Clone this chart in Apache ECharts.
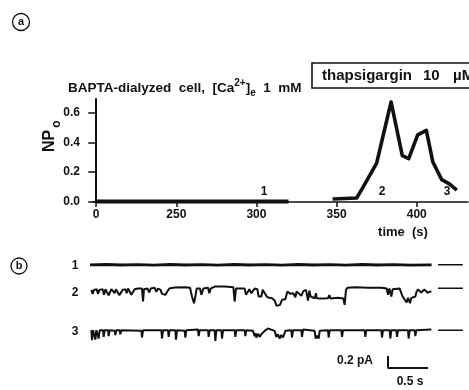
<!DOCTYPE html>
<html>
<head>
<meta charset="utf-8">
<script src="https://cdn.jsdelivr.net/npm/echarts@6/dist/echarts.min.js"></script>
<style>
html, body { margin: 0; padding: 0; background: #fff; }
#main { width: 469px; height: 390px; }
</style>
</head>
<body>
<div id="main"></div>
<script>
var FONT = '"Liberation Sans", Arial, sans-serif';

// (a) NPo against time; the time axis is broken after 250 s
var xTicks = [0, 250, 300, 350, 400];
var yTicks = [0, 0.2, 0.4, 0.6];
var baseTime = [0, 320];
var baseNPo = [0.003, 0.003];
var respTime = [347.5, 362.5, 366, 375, 384, 391, 395, 400.6, 406, 410, 415.6, 420.6, 425];
var respNPo = [0.02, 0.027, 0.09, 0.26, 0.67, 0.31, 0.29, 0.45, 0.48, 0.27, 0.15, 0.12, 0.08];

// (b) single channel records, [time s, current pA], openings go down
var trace1 = [[0, 0], [0.2, 0.005], [0.4, -0.003], [0.6, 0.004], [0.8, -0.004], [1.0, 0.005], [1.2, -0.003],
  [1.4, 0.004], [1.6, -0.004], [1.8, 0.005], [2.0, -0.003], [2.2, 0.004], [2.4, -0.004], [2.6, 0.005],
  [2.8, -0.003], [3.0, 0.004], [3.2, -0.004], [3.4, 0.005], [3.6, -0.003], [3.8, 0.004], [4.0, -0.004], [4.27, 0]];
var trace2 = [[0.017, -0.028], [0.033, -0.094], [0.05, -0.028], [0.083, -0.017], [0.1, -0.094], [0.117, -0.028],
  [0.158, -0.017], [0.175, -0.111], [0.192, -0.017], [0.217, -0.017], [0.233, -0.117], [0.25, -0.117],
  [0.267, -0.017], [0.292, -0.006], [0.308, -0.083], [0.325, -0.017], [0.35, -0.017], [0.367, -0.117],
  [0.392, -0.117], [0.408, -0.028], [0.442, -0.017], [0.458, -0.083], [0.475, -0.006], [0.5, -0.006],
  [0.517, -0.111], [0.542, -0.111], [0.558, -0.017], [0.6, -0.006], [0.65, -0.006], [0.663, -0.222],
  [0.675, -0.017], [0.717, -0.006], [0.742, -0.072], [0.758, -0.006], [0.808, 0.006], [0.829, -0.061],
  [0.85, -0.006], [0.883, -0.028], [0.9, -0.094], [0.942, -0.111], [0.967, -0.056], [0.992, -0.006],
  [1.058, 0.011], [1.183, 0.017], [1.25, 0.006], [1.275, -0.139], [1.3, -0.25], [1.317, -0.139],
  [1.333, -0.006], [1.375, -0.006], [1.392, -0.111], [1.417, -0.006], [1.475, 0.006], [1.492, -0.083],
  [1.508, -0.006], [1.558, 0.028], [1.683, 0.028], [1.792, 0.017], [1.808, -0.222], [1.825, -0.006],
  [1.85, 0.011], [1.933, -0.006], [1.95, -0.111], [1.975, -0.111], [1.992, -0.017], [2.017, -0.083],
  [2.042, -0.094], [2.058, -0.006], [2.092, -0.017], [2.108, -0.139], [2.142, -0.139], [2.158, -0.028],
  [2.183, -0.017], [2.217, -0.15], [2.275, -0.167], [2.308, -0.206], [2.333, -0.294], [2.375, -0.278],
  [2.4, -0.194], [2.442, -0.183], [2.467, -0.056], [2.483, -0.028], [2.508, -0.094], [2.542, -0.083],
  [2.567, -0.15], [2.583, -0.056], [2.608, -0.028], [2.642, -0.128], [2.667, -0.05], [2.7, -0.028],
  [2.725, -0.206], [2.742, -0.039], [2.758, -0.139], [2.808, -0.167], [2.825, -0.083], [2.833, -0.167],
  [2.892, -0.172], [2.975, -0.167], [2.992, -0.117], [3.008, -0.172], [3.1, -0.161], [3.167, -0.172],
  [3.183, -0.278], [3.2, -0.028], [3.217, 0.006], [3.308, 0.017], [3.475, 0.006], [3.642, 0.006],
  [3.708, -0.006], [3.725, -0.111], [3.742, -0.006], [3.767, -0.139], [3.783, -0.017], [3.871, -0.006],
  [3.892, -0.006], [3.908, -0.139], [3.933, -0.172], [3.958, -0.239], [3.975, -0.161], [4.0, -0.25],
  [4.017, -0.161], [4.042, -0.194], [4.067, -0.139], [4.083, -0.056], [4.1, -0.02], [4.121, -0.028],
  [4.14, -0.07], [4.163, -0.072], [4.18, -0.02], [4.204, -0.039], [4.22, -0.075], [4.246, -0.061], [4.267, -0.05]];
var trace3 = [[0.017, 0], [0.025, -0.167], [0.038, 0], [0.058, -0.011], [0.067, -0.156], [0.079, 0],
  [0.1, 0.011], [0.108, -0.139], [0.121, 0], [0.163, 0], [0.171, -0.111], [0.183, 0], [0.225, 0],
  [0.233, -0.1], [0.246, 0], [0.308, -0.011], [0.317, -0.083], [0.329, 0], [0.371, 0], [0.379, -0.067],
  [0.392, 0], [0.642, -0.011], [0.65, -0.122], [0.663, 0], [0.892, 0], [0.9, -0.139], [0.913, 0],
  [0.975, 0], [0.983, -0.111], [0.996, 0], [1.067, 0], [1.075, -0.156], [1.088, 0], [1.183, -0.011],
  [1.192, -0.122], [1.204, 0], [1.35, 0.011], [1.358, -0.1], [1.371, 0], [1.475, 0], [1.483, -0.111],
  [1.496, 0], [1.558, 0], [1.567, -0.178], [1.579, 0], [1.642, 0], [1.65, -0.139], [1.663, 0],
  [1.808, 0], [1.817, -0.111], [1.829, 0], [1.933, 0], [1.942, -0.1], [1.954, 0], [2.037, -0.011],
  [2.058, -0.1], [2.07, -0.05], [2.079, -0.122], [2.1, -0.06], [2.121, -0.111], [2.14, -0.07],
  [2.162, -0.089], [2.183, -0.011], [2.225, 0.028], [2.308, -0.011], [2.329, -0.111], [2.35, -0.07],
  [2.371, -0.139], [2.39, -0.08], [2.412, -0.122], [2.442, -0.011], [2.517, 0], [2.525, -0.122],
  [2.538, 0], [2.642, 0], [2.65, -0.111], [2.663, 0.011], [2.808, -0.011], [2.821, -0.139],
  [2.84, -0.09], [2.858, -0.139], [2.871, -0.011], [2.975, 0], [2.983, -0.122], [2.996, 0],
  [3.142, 0], [3.15, -0.111], [3.163, 0], [3.433, 0], [3.442, -0.111], [3.454, 0], [3.642, 0],
  [3.65, -0.122], [3.663, 0], [3.746, 0], [3.754, -0.139], [3.767, 0], [3.829, 0], [3.838, -0.111],
  [3.85, 0], [3.975, 0], [3.983, -0.139], [3.996, 0], [4.058, 0], [4.067, -0.1], [4.079, 0], [4.267, 0.011]];
var traceOffset = [1.72, 1.33, 0.63];
var traceNames = ['1', '2', '3'];
var closedMarkT = [4.35, 4.66];
var scaleBarT = [3.725, 4.225];
var scaleBarI = 0.2;

function axisPos(t) {
    return t <= 250 ? t / 5 : 50 + (t - 250);
}
function axisTime(p) {
    return p <= 50 ? p * 5 : p + 200;
}
function shift(trace, off) {
    return trace.map(function (d) { return [d[0], d[1] + off]; });
}

var myChart = echarts.init(document.getElementById('main'));

var traces = [trace1, trace2, trace3];
var traceSeries = traces.map(function (tr, k) {
    return {
        type: 'line', xAxisIndex: 1, yAxisIndex: 1,
        data: shift(tr, traceOffset[k]),
        showSymbol: false, animation: false,
        lineStyle: { color: '#111', width: k === 0 ? 2.8 : 2 }
    };
});
var markSeries = traceOffset.map(function (off) {
    return {
        type: 'line', xAxisIndex: 1, yAxisIndex: 1,
        data: [[closedMarkT[0], off], [closedMarkT[1], off]],
        showSymbol: false, animation: false,
        lineStyle: { color: '#111', width: 1.4 }
    };
});

var boldText = function (x, y, text, size, align, rot) {
    return {
        type: 'text', x: x, y: y, rotation: rot || 0,
        style: { text: text, font: 'bold ' + size + 'px ' + FONT, fill: '#111',
                 align: align || 'center', verticalAlign: 'middle' }
    };
};

option = {
    backgroundColor: '#fff',
    grid: [
        { left: 93, right: 1, top: 99, bottom: 188 },
        { left: 90, right: 0, top: 250, bottom: 22 }
    ],
    xAxis: [
        {
            type: 'value', min: -2, max: 232, gridIndex: 0,
            axisLine: { lineStyle: { color: '#111', width: 1.5 } },
            axisTick: { customValues: xTicks.map(axisPos), length: 5, lineStyle: { color: '#111', width: 1.5 } },
            axisLabel: {
                customValues: xTicks.map(axisPos), margin: 7,
                formatter: function (v) { return String(Math.round(axisTime(v))); },
                color: '#111', fontWeight: 'bold', fontSize: 12, fontFamily: FONT
            },
            splitLine: { show: false }
        },
        { type: 'value', min: 0, max: 4.7375, gridIndex: 1, show: false }
    ],
    yAxis: [
        {
            type: 'value', min: 0, max: 0.69, gridIndex: 0,
            axisLine: { show: true, lineStyle: { color: '#111', width: 2 } },
            axisTick: { show: true, customValues: yTicks, length: 8, lineStyle: { color: '#111', width: 1.5 } },
            axisLabel: {
                customValues: yTicks, margin: 13,
                formatter: function (v) { return v.toFixed(1); },
                color: '#111', fontWeight: 'bold', fontSize: 12, fontFamily: FONT
            },
            splitLine: { show: false }
        },
        { type: 'value', min: 0, max: 1.9667, gridIndex: 1, show: false }
    ],
    series: [
        {
            type: 'line', xAxisIndex: 0, yAxisIndex: 0,
            data: baseTime.map(function (t, i) { return [axisPos(t), baseNPo[i]]; }),
            showSymbol: false, animation: false,
            lineStyle: { color: '#111', width: 4 }
        },
        {
            type: 'line', xAxisIndex: 0, yAxisIndex: 0,
            data: respTime.map(function (t, i) { return [axisPos(t), respNPo[i]]; }),
            showSymbol: false, animation: false,
            lineStyle: { color: '#111', width: 3.6, join: 'round' }
        },
        {
            // scale bar
            type: 'line', xAxisIndex: 1, yAxisIndex: 1,
            data: [[scaleBarT[0], scaleBarI], [scaleBarT[0], 0], [scaleBarT[1], 0]],
            showSymbol: false, animation: false,
            lineStyle: { color: '#111', width: 2 }
        }
    ].concat(traceSeries, markSeries),
    graphic: [
        { type: 'circle', shape: { cx: 21, cy: 22, r: 8.5 }, style: { fill: 'none', stroke: '#111', lineWidth: 1.3 } },
        boldText(21, 22, 'a', 11),
        { type: 'circle', shape: { cx: 19, cy: 266, r: 8 }, style: { fill: 'none', stroke: '#111', lineWidth: 1.3 } },
        boldText(19, 266, 'b', 11),
        // y axis name NPo
        boldText(50, 141, 'NP', 16, 'center', Math.PI / 2),
        boldText(57, 124, 'o', 12, 'center', Math.PI / 2),
        {
            type: 'text', x: 68, y: 88,
            style: {
                text: 'BAPTA-dialyzed  cell,  [Ca{sup|2+}]{sub|e}  1  mM',
                font: 'bold 13.5px ' + FONT, fill: '#111', lineHeight: 20,
                align: 'left', verticalAlign: 'middle',
                rich: {
                    sup: { fontSize: 10, fontWeight: 'bold', fontFamily: FONT, fill: '#111', lineHeight: 9, verticalAlign: 'top' },
                    sub: { fontSize: 10, fontWeight: 'bold', fontFamily: FONT, fill: '#111', lineHeight: 9, verticalAlign: 'bottom' }
                }
            }
        },
        { type: 'rect', shape: { x: 312, y: 63, width: 170, height: 25 }, style: { fill: '#fff', stroke: '#111', lineWidth: 1.6 } },
        boldText(322, 76, 'thapsigargin', 15, 'left'),
        boldText(423, 76, '10', 15, 'left'),
        boldText(453, 76, 'µM', 15, 'left'),
        boldText(264, 192, '1', 12),
        boldText(382, 192, '2', 12),
        boldText(447, 192, '3', 12),
        boldText(403, 232, 'time  (s)', 13),
        boldText(75, 266, traceNames[0], 12),
        boldText(75, 293, traceNames[1], 12),
        boldText(75, 332, traceNames[2], 12),
        boldText(355, 361, '0.2 pA', 12),
        boldText(410, 382, '0.5 s', 12)
    ]
};

myChart.setOption(option);
</script>
</body>
</html>
